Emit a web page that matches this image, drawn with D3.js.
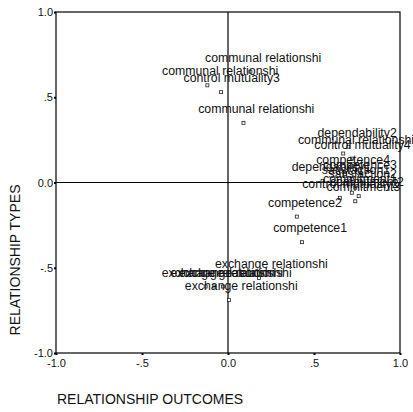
<!DOCTYPE html>
<html>
<head>
<meta charset="utf-8">
<script src="https://cdn.jsdelivr.net/npm/d3@7"></script>
<style>
  body { margin: 0; background: #fff; }
  text { font-family: "Liberation Sans", Arial, sans-serif; fill: #111; }
</style>
</head>
<body>
<div id="chart"></div>
<script>
// point labels and their coordinates (dimension 1 = outcomes, dimension 2 = types)
var labels = [
  "communal relationshi", "communal relationshi", "control mutuality3", "communal relationshi",
  "dependability2", "communal relationshi", "control mutuality4",
  "dependability1", "competence4", "competence3", "satisfaction1", "satisfaction2",
  "commitment1", "commitment2", "control mutuality2", "commitment3",
  "competence2", "competence1",
  "exchange relationshi", "exchange relationshi", "exchange relationshi",
  "exchange relationshi", "exchange relationshi"
];
var dim1 = [
  0.13, -0.12, -0.04, 0.09,
  0.70, 0.67, 0.72,
  0.55, 0.68, 0.72, 0.70, 0.74,
  0.72, 0.76, 0.65, 0.74,
  0.40, 0.43,
  0.18, -0.13, -0.08, -0.03, 0.005
];
var dim2 = [
  0.65, 0.57, 0.53, 0.35,
  0.21, 0.17, 0.14,
  0.01, 0.05, 0.02, -0.01, -0.03,
  -0.06, -0.08, -0.09, -0.11,
  -0.20, -0.35,
  -0.56, -0.61, -0.61, -0.61, -0.69
];
var ticks = [-1, -0.5, 0, 0.5, 1];
var tickText = ["-1.0", "-.5", "0.0", ".5", "1.0"];

var W = 413, H = 412;
var margin = {top: 12, right: 13, bottom: 59, left: 56};

var svg = d3.select("#chart").append("svg")
  .attr("width", W).attr("height", H);

var x = d3.scaleLinear().domain([-1, 1]).range([margin.left, W - margin.right]);
var y = d3.scaleLinear().domain([-1, 1]).range([H - margin.bottom, margin.top]);

var g = svg.append("g");

// frame
g.append("rect")
  .attr("x", x(-1)).attr("y", y(1))
  .attr("width", x(1) - x(-1)).attr("height", y(-1) - y(1))
  .attr("fill", "none").attr("stroke", "#000").attr("stroke-width", 1.2);

// zero reference lines
g.append("line")
  .attr("x1", x(0)).attr("x2", x(0)).attr("y1", y(1)).attr("y2", y(-1))
  .attr("stroke", "#000").attr("stroke-width", 1.2);
g.append("line")
  .attr("x1", x(-1)).attr("x2", x(1)).attr("y1", y(0)).attr("y2", y(0))
  .attr("stroke", "#000").attr("stroke-width", 1.2);

// axes
var fmt = function(d) { return tickText[ticks.indexOf(d)]; };
var xAxis = g.append("g")
  .attr("transform", "translate(0," + y(-1) + ")")
  .call(d3.axisBottom(x).tickValues(ticks).tickFormat(fmt).tickSize(2).tickPadding(4));
var yAxis = g.append("g")
  .attr("transform", "translate(" + x(-1) + ",0)")
  .call(d3.axisLeft(y).tickValues(ticks).tickFormat(fmt).tickSize(2).tickPadding(1));
[xAxis, yAxis].forEach(function(a) {
  a.select(".domain").remove();
  a.selectAll("line").attr("stroke", "#000").attr("stroke-width", 2);
  a.selectAll("text").attr("font-size", 11).attr("font-family", "Liberation Sans, Arial, sans-serif").attr("fill", "#111");
});

// markers
var pts = labels.map(function(l, i) { return {label: l, a: dim1[i], b: dim2[i]}; });
g.append("g").selectAll("rect")
  .data(pts).enter().append("rect")
  .attr("x", function(d) { return x(d.a) - 1.5; })
  .attr("y", function(d) { return y(d.b) - 1.5; })
  .attr("width", 3).attr("height", 3)
  .attr("fill", "#fff").attr("stroke", "#222").attr("stroke-width", 0.8);

// point labels, placed a little above and slightly to the right of each marker
g.append("g").selectAll("text")
  .data(pts).enter().append("text")
  .attr("font-size", 12.3)
  .attr("y", function(d) { return y(d.b) - 10; })
  .text(function(d) { return d.label; })
  .attr("x", function(d) { return x(d.a) - 0.39 * this.getComputedTextLength(); });

// axis titles
svg.append("text")
  .attr("x", 57).attr("y", 404)
  .attr("font-size", 14)
  .text("RELATIONSHIP OUTCOMES");
svg.append("text")
  .attr("transform", "translate(20,260) rotate(-90)")
  .attr("text-anchor", "middle")
  .attr("font-size", 14)
  .text("RELATIONSHIP TYPES");
</script>
</body>
</html>
